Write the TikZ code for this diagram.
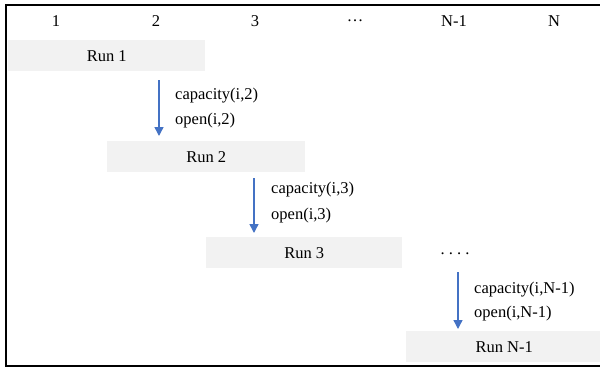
\documentclass[tikz,border=0pt]{standalone}
\usepackage{fontspec}
\setmainfont{Liberation Serif}
\usetikzlibrary{arrows.meta}
\definecolor{runfill}{RGB}{242,242,242}
\definecolor{flowblue}{RGB}{68,114,196}
\begin{document}
\begin{tikzpicture}[x=1pt,y=-1pt,
  every node/.style={font=\fontsize{16.5}{20}\selectfont, inner sep=0pt},
  runbox/.style={fill=runfill, minimum height=31pt, anchor=north west},
  collabel/.style={anchor=center},
  steplabel/.style={anchor=west},
  flow/.style={draw=flowblue, line width=1.4pt,
    -{Triangle[width=9pt,length=9pt]}, shorten >=0pt}
]
\useasboundingbox (0,0) rectangle (600,370);
% outer frame
\draw[line width=1.8pt] (6,5) rectangle (603,366);

% column headers
\node[collabel] (c1) at (56,21) {1};
\node[collabel] (c2) at (156,21) {2};
\node[collabel] (c3) at (255,21) {3};
\node[collabel] (cdots) at (355,21) {\dots};
\node[collabel] (cn1) at (454,21) {N-1};
\node[collabel] (cn) at (554,21) {N};

% runs
\node[runbox, minimum width=197pt] (r1) at (8,40) {Run 1};
\node[runbox, minimum width=198pt] (r2) at (107,141) {Run 2};
\node[runbox, minimum width=196pt] (r3) at (206,237) {Run 3};
\node[runbox, minimum width=196pt] (rn1) at (406,331) {Run N-1};
\node (gap) at (455,254) {.\ .\ .\ .};

% hand-over arrows between runs
\coordinate (a1s) at (159,80);  \coordinate (a1e) at (159,136);
\coordinate (a2s) at (254,178); \coordinate (a2e) at (254,233);
\coordinate (a3s) at (458,272); \coordinate (a3e) at (458,329);
\draw[flow] (a1s) -- (a1e);
\draw[flow] (a2s) -- (a2e);
\draw[flow] (a3s) -- (a3e);

% passed parameters
\node[steplabel] (cap2) at (175,96) {capacity(i,2)};
\node[steplabel] (open2) at (175,121) {open(i,2)};
\node[steplabel] (cap3) at (271,190) {capacity(i,3)};
\node[steplabel] (open3) at (271,216) {open(i,3)};
\node[steplabel] (capn) at (474,290) {capacity(i,N-1)};
\node[steplabel] (openn) at (474,314) {open(i,N-1)};
\end{tikzpicture}
\end{document}
